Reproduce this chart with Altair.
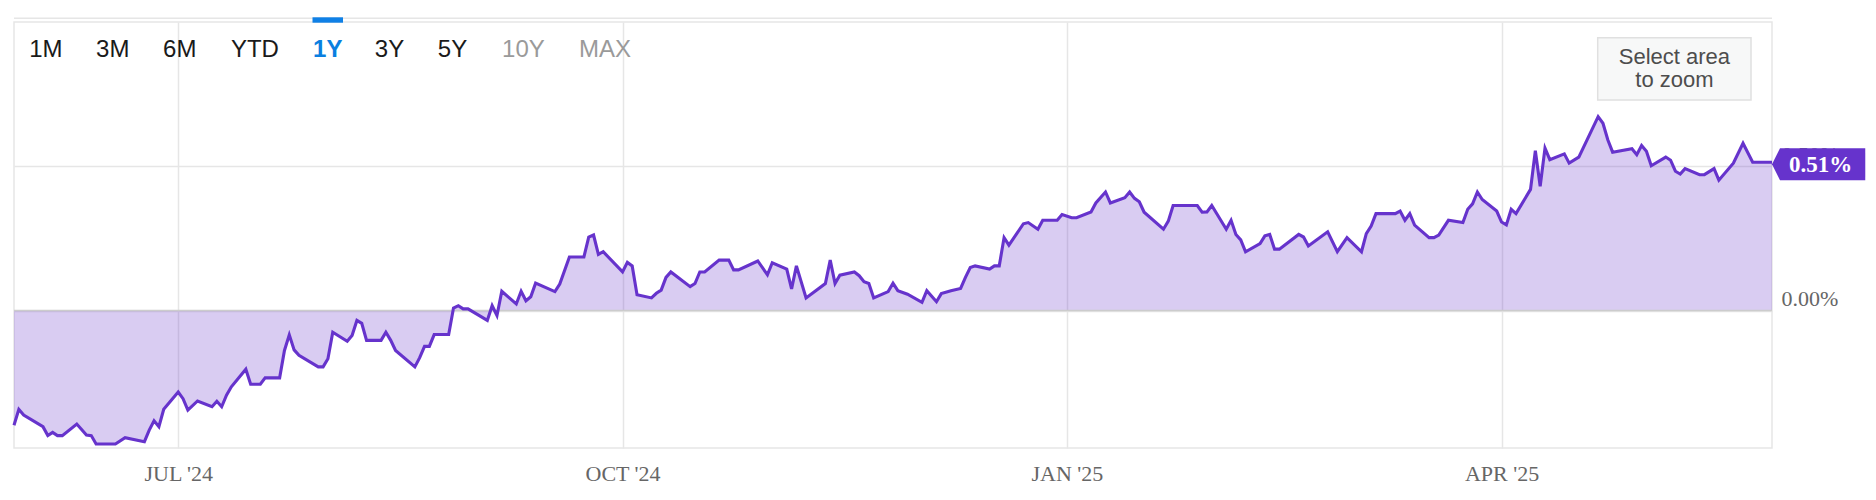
import altair as alt
import pandas as pd

DATES = [
    "2024-05-28", "2024-05-29", "2024-05-30", "2024-06-03", "2024-06-04", "2024-06-05",
    "2024-06-06", "2024-06-07", "2024-06-10", "2024-06-12", "2024-06-13", "2024-06-14",
    "2024-06-18", "2024-06-20", "2024-06-24", "2024-06-25", "2024-06-26", "2024-06-27",
    "2024-06-28", "2024-07-01", "2024-07-02", "2024-07-03", "2024-07-05", "2024-07-08",
    "2024-07-09", "2024-07-10", "2024-07-11", "2024-07-12", "2024-07-15", "2024-07-16",
    "2024-07-18", "2024-07-19", "2024-07-22", "2024-07-23", "2024-07-24", "2024-07-25",
    "2024-07-26", "2024-07-30", "2024-07-31", "2024-08-01", "2024-08-02", "2024-08-05",
    "2024-08-06", "2024-08-07", "2024-08-08", "2024-08-09", "2024-08-12", "2024-08-13",
    "2024-08-14", "2024-08-15", "2024-08-19", "2024-08-20", "2024-08-21", "2024-08-22",
    "2024-08-23", "2024-08-26", "2024-08-27", "2024-08-28", "2024-08-29", "2024-08-30",
    "2024-09-03", "2024-09-04", "2024-09-05", "2024-09-06", "2024-09-09", "2024-09-10",
    "2024-09-11", "2024-09-12", "2024-09-13", "2024-09-17", "2024-09-18", "2024-09-20",
    "2024-09-23", "2024-09-24", "2024-09-25", "2024-09-26", "2024-09-27", "2024-10-01",
    "2024-10-02", "2024-10-03", "2024-10-04", "2024-10-07", "2024-10-08", "2024-10-09",
    "2024-10-10", "2024-10-11", "2024-10-15", "2024-10-16", "2024-10-17", "2024-10-18",
    "2024-10-21", "2024-10-23", "2024-10-24", "2024-10-25", "2024-10-29", "2024-10-31",
    "2024-11-01", "2024-11-04", "2024-11-05", "2024-11-06", "2024-11-08", "2024-11-12",
    "2024-11-13", "2024-11-14", "2024-11-15", "2024-11-18", "2024-11-19", "2024-11-20",
    "2024-11-21", "2024-11-22", "2024-11-25", "2024-11-26", "2024-11-27", "2024-11-29",
    "2024-12-02", "2024-12-03", "2024-12-05", "2024-12-06", "2024-12-08", "2024-12-10",
    "2024-12-11", "2024-12-12", "2024-12-13", "2024-12-16", "2024-12-17", "2024-12-18",
    "2024-12-19", "2024-12-20", "2024-12-23", "2024-12-24", "2024-12-26", "2024-12-27",
    "2024-12-30", "2024-12-31", "2025-01-02", "2025-01-03", "2025-01-06", "2025-01-07",
    "2025-01-09", "2025-01-10", "2025-01-13", "2025-01-14", "2025-01-15", "2025-01-16",
    "2025-01-17", "2025-01-21", "2025-01-22", "2025-01-23", "2025-01-28", "2025-01-29",
    "2025-01-30", "2025-01-31", "2025-02-03", "2025-02-04", "2025-02-05", "2025-02-06",
    "2025-02-07", "2025-02-10", "2025-02-11", "2025-02-12", "2025-02-13", "2025-02-14",
    "2025-02-18", "2025-02-19", "2025-02-20", "2025-02-24", "2025-02-26", "2025-02-28",
    "2025-03-03", "2025-03-04", "2025-03-05", "2025-03-06", "2025-03-10", "2025-03-11",
    "2025-03-12", "2025-03-13", "2025-03-14", "2025-03-17", "2025-03-18", "2025-03-19",
    "2025-03-21", "2025-03-24", "2025-03-25", "2025-03-26", "2025-03-27", "2025-03-28",
    "2025-03-31", "2025-04-01", "2025-04-02", "2025-04-03", "2025-04-04", "2025-04-07",
    "2025-04-08", "2025-04-09", "2025-04-10", "2025-04-11", "2025-04-14", "2025-04-15",
    "2025-04-17", "2025-04-21", "2025-04-22", "2025-04-23", "2025-04-24", "2025-04-28",
    "2025-04-29", "2025-04-30", "2025-05-01", "2025-05-02", "2025-05-05", "2025-05-06",
    "2025-05-07", "2025-05-08", "2025-05-09", "2025-05-12", "2025-05-13", "2025-05-15",
    "2025-05-16", "2025-05-19", "2025-05-21", "2025-05-23", "2025-05-27",
]

VALUES = [
    -0.397, -0.342, -0.362, -0.402, -0.433, -0.422,
    -0.433, -0.433, -0.393, -0.431, -0.433, -0.462,
    -0.462, -0.440, -0.454, -0.414, -0.382, -0.402,
    -0.342, -0.282, -0.305, -0.345, -0.313, -0.333,
    -0.314, -0.333, -0.293, -0.264, -0.203, -0.255,
    -0.255, -0.233, -0.233, -0.138, -0.084, -0.136,
    -0.155, -0.195, -0.195, -0.167, -0.075, -0.106,
    -0.086, -0.034, -0.044, -0.103, -0.103, -0.075,
    -0.103, -0.138, -0.195, -0.163, -0.124, -0.124,
    -0.083, -0.083, 0.009, 0.017, 0.006, 0.006,
    -0.034, 0.017, -0.017, 0.067, 0.023, 0.067,
    0.034, 0.048, 0.095, 0.066, 0.092, 0.186,
    0.186, 0.255, 0.262, 0.195, 0.204, 0.134,
    0.167, 0.155, 0.055, 0.044, 0.060, 0.071,
    0.115, 0.134, 0.083, 0.094, 0.134, 0.134,
    0.175, 0.175, 0.141, 0.141, 0.172, 0.124,
    0.166, 0.144, 0.075, 0.155, 0.044, 0.094,
    0.175, 0.094, 0.123, 0.134, 0.121, 0.100,
    0.094, 0.044, 0.066, 0.095, 0.069, 0.057,
    0.029, 0.069, 0.031, 0.059, 0.069, 0.077,
    0.115, 0.149, 0.155, 0.144, 0.155, 0.155,
    0.253, 0.227, 0.301, 0.305, 0.282, 0.313,
    0.313, 0.333, 0.322, 0.322, 0.342, 0.373,
    0.411, 0.373, 0.391, 0.411, 0.389, 0.377,
    0.341, 0.282, 0.310, 0.364, 0.364, 0.341,
    0.342, 0.364, 0.282, 0.313, 0.264, 0.245,
    0.204, 0.232, 0.259, 0.264, 0.213, 0.213,
    0.264, 0.255, 0.224, 0.273, 0.204, 0.253,
    0.204, 0.267, 0.293, 0.336, 0.336, 0.345,
    0.313, 0.336, 0.296, 0.253, 0.253, 0.262,
    0.313, 0.305, 0.351, 0.370, 0.411, 0.385,
    0.345, 0.307, 0.297, 0.351, 0.336, 0.420,
    0.554, 0.431, 0.563, 0.523, 0.543, 0.511,
    0.532, 0.672, 0.649, 0.592, 0.549, 0.561,
    0.540, 0.572, 0.552, 0.502, 0.532, 0.521,
    0.483, 0.473, 0.492, 0.471, 0.471, 0.492,
    0.452, 0.511, 0.580, 0.514, 0.514,
]

BUTTONS = ["1M", "3M", "6M", "YTD", "1Y", "3Y", "5Y", "10Y", "MAX"]
BUTTON_STATE = ["normal", "normal", "normal", "normal", "active",
                "normal", "normal", "disabled", "disabled"]
X_TICKS = ["2024-07-01", "2024-10-01", "2025-01-01", "2025-04-01"]
Y_TICKS = [0.0, 0.5]
Y_DOMAIN = [-0.476, 1.0]
ZOOM_HINT = ["Select area", "to zoom"]

# ---- styling / layout constants ----
W, H = 1758, 426
PURPLE = "#6633cc"
SERIF = "Liberation Serif"
SANS = "Liberation Sans"
BUTTON_X = [31.8, 98.7, 165.7, 240.9, 313.7, 375.5, 438.5, 509.4, 590.9]
BUTTON_COLOR = {"normal": "#1a1a1a", "active": "#0a7fe0", "disabled": "#9a9a9a"}


def dt(s):
    y, m, d = (int(p) for p in s.split("-"))
    return alt.DateTime(year=y, month=m, date=d, utc=True)


df = pd.DataFrame({"date": DATES, "value": VALUES})
last_val = VALUES[-1]
one = pd.DataFrame({"k": [0]})

x_enc = alt.X(
    "date:T",
    scale=alt.Scale(type="utc", domain=[dt(DATES[0]), dt(DATES[-1])], nice=False),
    axis=alt.Axis(
        values=[dt(s) for s in X_TICKS],
        labelExpr='upper(utcFormat(datum.value, "%b \'%y"))',
        title=None, ticks=False, tickSize=0, domain=False,
        grid=True, gridColor="#e6e6e6", gridWidth=1.5,
        labelFont=SERIF, labelFontSize=22, labelColor="#666666",
        labelBaseline="alphabetic", labelPadding=32, labelFlush=False,
    ),
)
y_enc = alt.Y(
    "value:Q",
    scale=alt.Scale(domain=Y_DOMAIN, nice=False, zero=False),
    axis=alt.Axis(
        orient="right", values=Y_TICKS,
        labelExpr="format(datum.value, '.2f') + '%'",
        title=None, ticks=False, tickSize=0, domain=False,
        grid=True, gridColor="#e6e6e6", gridWidth=1.5,
        labelFont=SERIF, labelFontSize=22, labelColor="#666666",
        labelAlign="left", labelBaseline="alphabetic", labelOffset=-5, labelPadding=9,
    ),
)

area = alt.Chart(df).mark_area(color=PURPLE, opacity=0.25).encode(
    x=x_enc, y=y_enc, y2=alt.datum(0)
)
zero_rule = alt.Chart(one).mark_rule(color="#cccccc", strokeWidth=1.5).encode(y=alt.datum(0))
line = alt.Chart(df).mark_line(color=PURPLE, strokeWidth=3.1).encode(x="date:T", y="value:Q")

top_line = alt.Chart(one).mark_rule(color="#e6e6e6", strokeWidth=1.5).encode(
    x=alt.value(0), x2=alt.value(W), y=alt.value(-3.7)
)
blue_bar = alt.Chart(one).mark_rect(color="#0f80e6").encode(
    x=alt.value(298.5), x2=alt.value(329), y=alt.value(-4.7), y2=alt.value(0.7)
)

button_layers = []
for label, state, bx in zip(BUTTONS, BUTTON_STATE, BUTTON_X):
    button_layers.append(
        alt.Chart(one).mark_text(
            text=label, font=SANS, fontSize=24,
            fontWeight="bold" if state == "active" else "normal",
            color=BUTTON_COLOR[state], align="center", baseline="alphabetic",
        ).encode(x=alt.value(bx), y=alt.value(34.7))
    )

zoom_box = alt.Chart(one).mark_rect(fill="#f7f8f8", stroke="#e0e0e0", strokeWidth=1.5).encode(
    x=alt.value(1583.7), x2=alt.value(1737), y=alt.value(15.7), y2=alt.value(78)
)
zoom_text = [
    alt.Chart(one).mark_text(
        text=t, font=SANS, fontSize=22, color="#4d4d4d", align="center", baseline="alphabetic"
    ).encode(x=alt.value(1660.4), y=alt.value(yy))
    for t, yy in zip(ZOOM_HINT, [42, 65.3])
]

badge = alt.Chart(one).mark_point(
    shape="M0,0 L0.5,-1 L5.83,-1 L5.83,1 L0.5,1 Z", size=1024, filled=True,
    fill=PURPLE, opacity=1, strokeWidth=0, yOffset=2,
).encode(x=alt.value(W), y=alt.datum(last_val))
badge_text = alt.Chart(one).mark_text(
    font=SERIF, fontSize=23, fontWeight="bold", color="white",
    align="center", baseline="middle", dy=2.3,
).encode(x=alt.value(W + 48.5), y=alt.datum(last_val), text=alt.value(f"{last_val:.2f}%"))

chart = alt.layer(
    area, zero_rule, line, top_line, blue_bar, *button_layers,
    zoom_box, *zoom_text, badge, badge_text,
).properties(
    width=W, height=H,
    padding={"left": 6, "top": 14, "right": 96, "bottom": 44},
    autosize=alt.AutoSizeParams(type="none"),
).configure_view(stroke="#e6e6e6", strokeWidth=1.5)

chart.save("out.html", embed_options={"renderer": "svg", "actions": False})
